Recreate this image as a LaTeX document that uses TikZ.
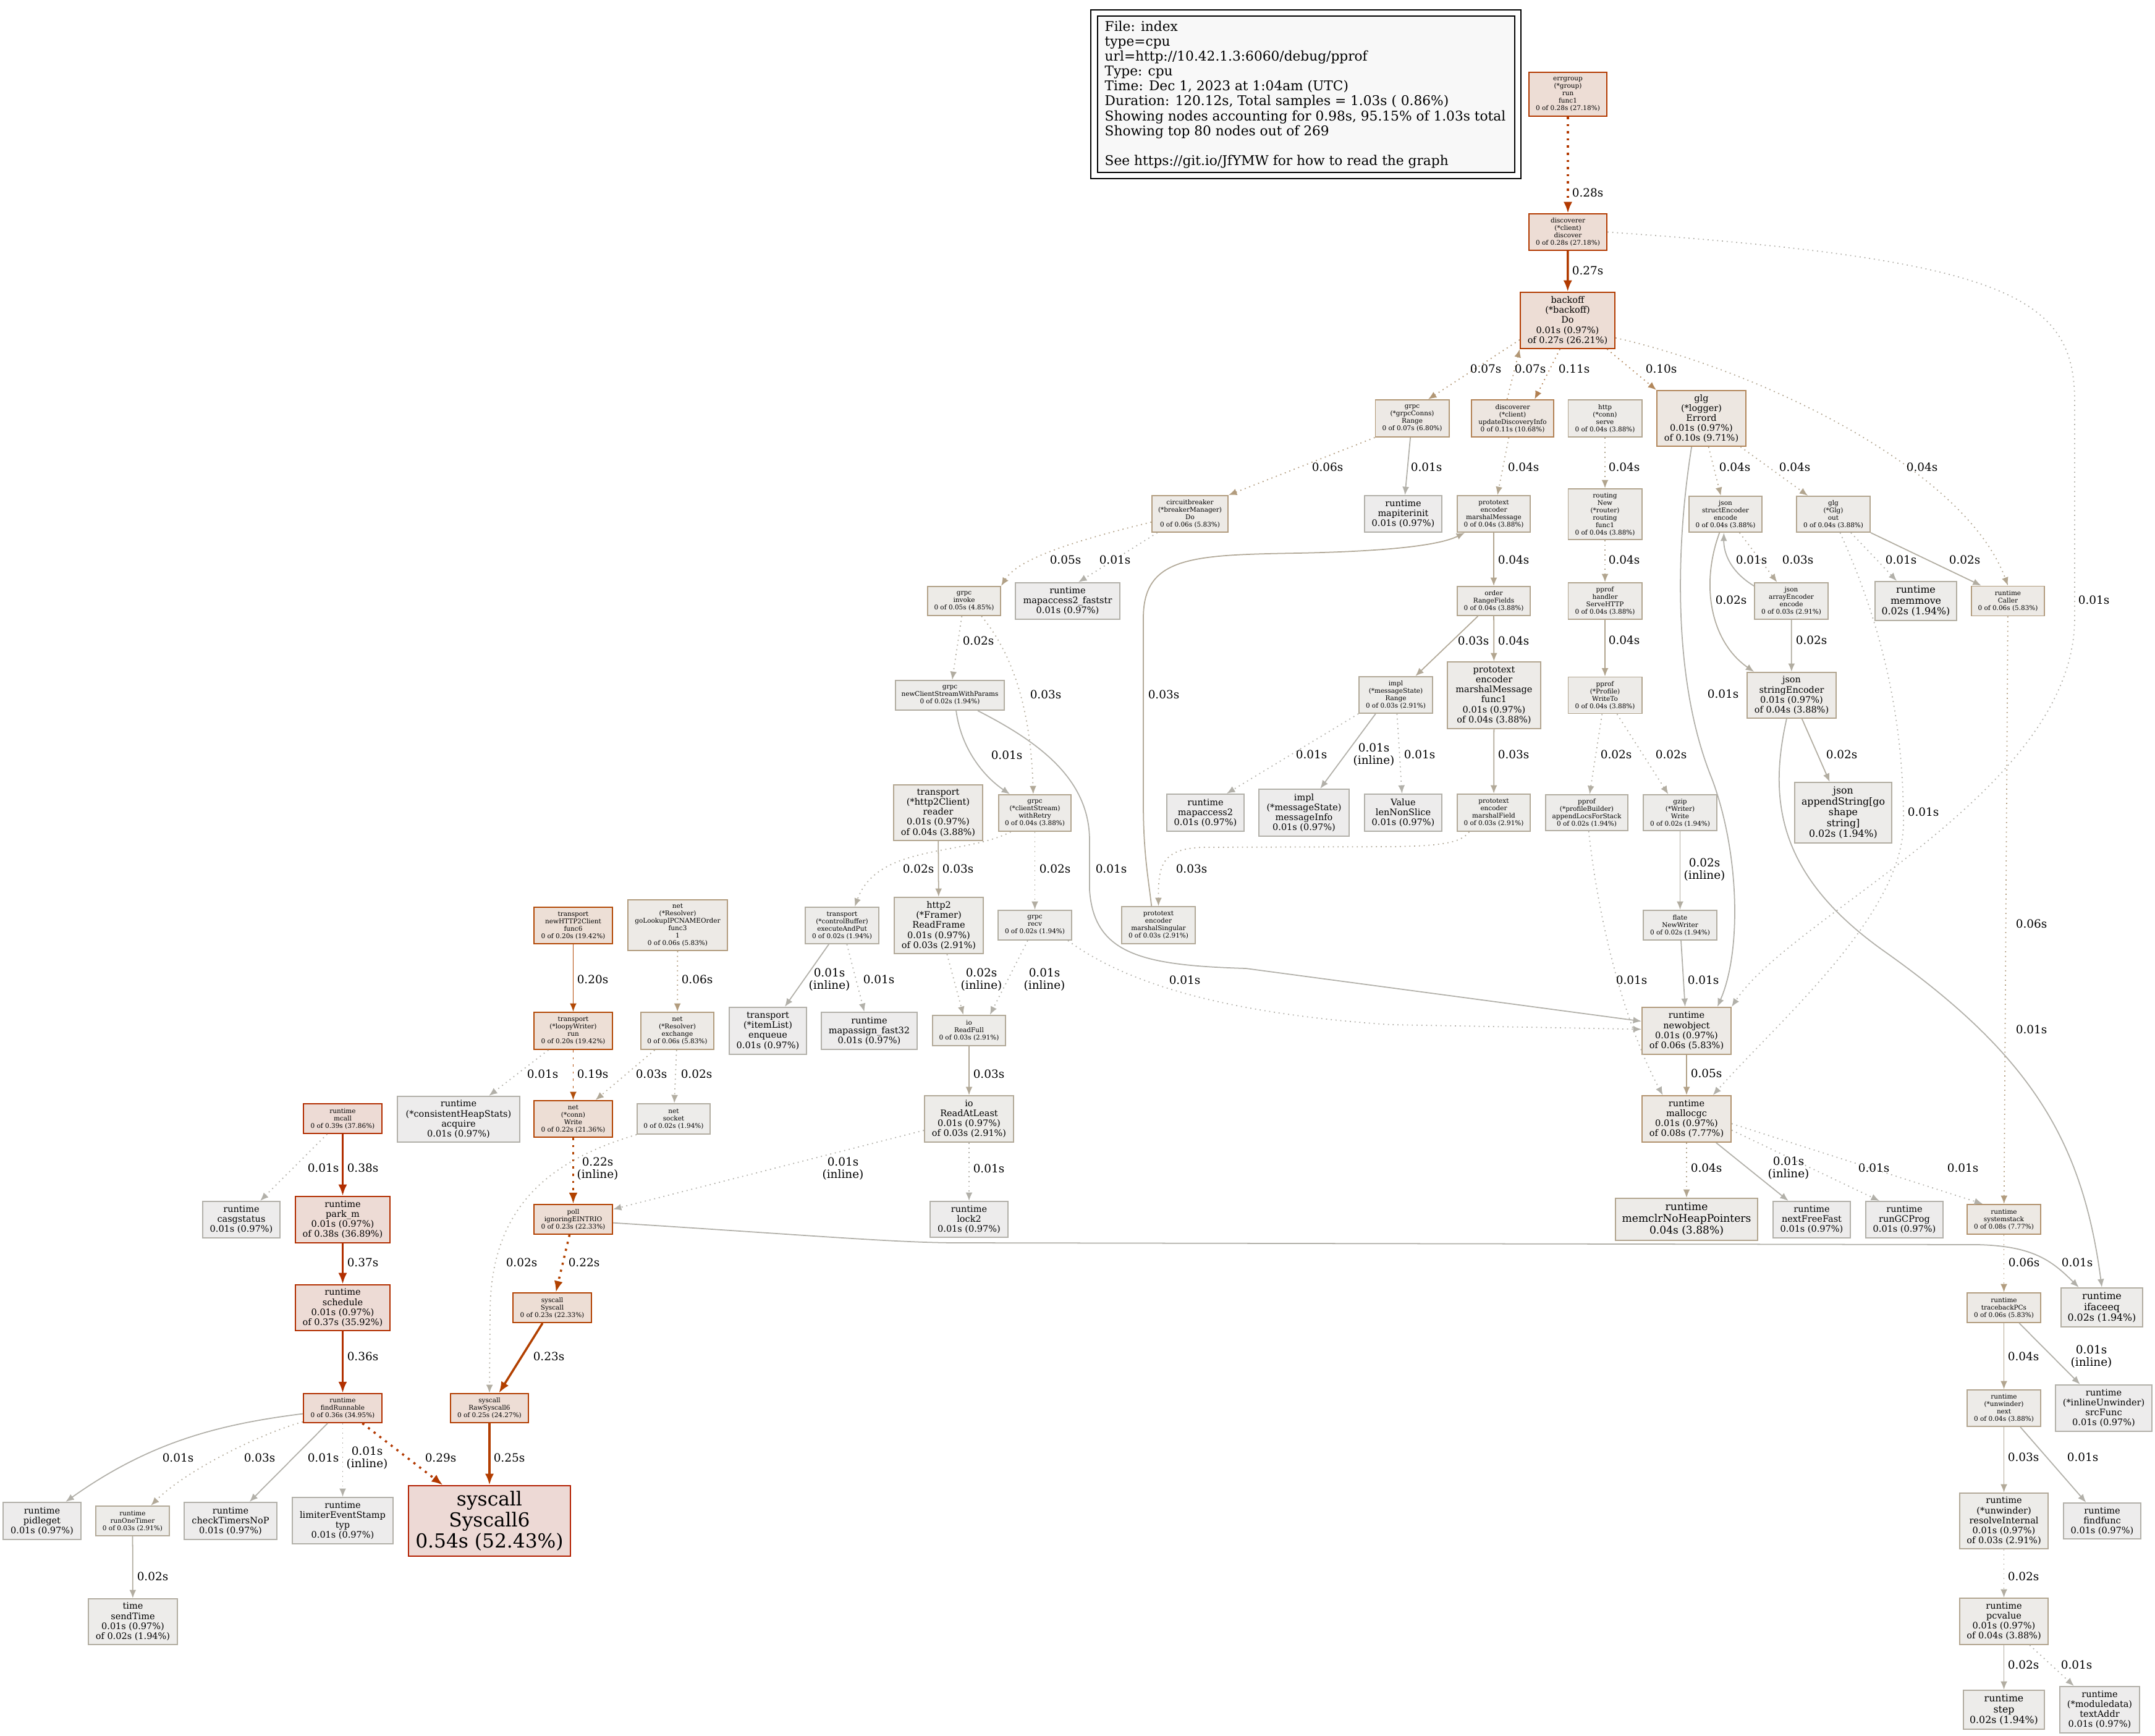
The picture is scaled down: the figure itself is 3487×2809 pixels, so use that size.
\documentclass[tikz,border=0pt]{standalone}
\usepackage{fontspec}
\setmainfont{DejaVu Serif}
\usetikzlibrary{arrows.meta}
\definecolor{c54}{HTML}{B21F00}
\definecolor{c39}{HTML}{B22D00}
\definecolor{c38}{HTML}{B22E00}
\definecolor{c37}{HTML}{B22F00}
\definecolor{c36}{HTML}{B23000}
\definecolor{c29}{HTML}{B23800}
\definecolor{c28}{HTML}{B23900}
\definecolor{c27}{HTML}{B23B00}
\definecolor{c25}{HTML}{B23D00}
\definecolor{c23}{HTML}{B24000}
\definecolor{c22}{HTML}{B24200}
\definecolor{c20}{HTML}{B24805}
\definecolor{c19}{HTML}{B24F0D}
\definecolor{c11}{HTML}{B28153}
\definecolor{c10}{HTML}{B2875B}
\definecolor{c08}{HTML}{B2926D}
\definecolor{c07}{HTML}{B29775}
\definecolor{c06}{HTML}{B29C7E}
\definecolor{c05}{HTML}{B2A187}
\definecolor{c04}{HTML}{B2A58F}
\definecolor{c03}{HTML}{B2A998}
\definecolor{c02}{HTML}{B2ADA1}
\definecolor{c01}{HTML}{B2B0A9}
\definecolor{k54}{HTML}{EDD9D5}
\definecolor{k39}{HTML}{EDDBD5}
\definecolor{k36}{HTML}{EDDCD5}
\definecolor{k28}{HTML}{EDDDD5}
\definecolor{k23}{HTML}{EDDED5}
\definecolor{k20}{HTML}{EDDFD6}
\definecolor{k11}{HTML}{EDE6E0}
\definecolor{k10}{HTML}{EDE7E1}
\definecolor{k08}{HTML}{EDE9E4}
\definecolor{k07}{HTML}{EDE9E5}
\definecolor{k06}{HTML}{EDEAE6}
\definecolor{k05}{HTML}{EDEBE7}
\definecolor{k04}{HTML}{EDEBE8}
\definecolor{k03}{HTML}{EDECE9}
\definecolor{k02}{HTML}{EDECEA}
\definecolor{k01}{HTML}{EDECEC}
\definecolor{legfill}{HTML}{F8F8F8}
\tikzset{
  nb/.style={draw, rectangle, inner sep=0pt, align=center, line width=0.55pt, text=black},
  t8/.style={font=\fontsize{2.98}{3.41}\selectfont},
  t11/.style={font=\fontsize{4.12}{4.6}\selectfont},
  t12/.style={font=\fontsize{4.49}{4.97}\selectfont},
  t13/.style={font=\fontsize{4.86}{5.4}\selectfont},
  t24/.style={font=\fontsize{8.9}{9.8}\selectfont},
  lbl/.style={font=\fontsize{5.24}{5.7}\selectfont, inner sep=0pt, align=center, text=black},
  e/.style={line width=0.5pt, -{Latex[length=3.8pt,width=3.1pt]}},
  eh/.style={line width=1pt, -{Latex[length=5.2pt,width=4pt]}},
  dt/.style={dash pattern=on 0.5pt off 1.7pt},
  dth/.style={dash pattern=on 1pt off 2.3pt},
  n54/.style={draw=c54, fill=k54},
  n39/.style={draw=c39, fill=k39},
  n38/.style={draw=c38, fill=k39},
  n37/.style={draw=c37, fill=k39},
  n36/.style={draw=c36, fill=k36},
  n28/.style={draw=c28, fill=k28},
  n27/.style={draw=c27, fill=k28},
  n25/.style={draw=c25, fill=k28},
  n23/.style={draw=c23, fill=k23},
  n22/.style={draw=c22, fill=k23},
  n20/.style={draw=c20, fill=k20},
  n11/.style={draw=c11, fill=k11},
  n10/.style={draw=c10, fill=k10},
  n08/.style={draw=c08, fill=k08},
  n07/.style={draw=c07, fill=k07},
  n06/.style={draw=c06, fill=k06},
  n05/.style={draw=c05, fill=k05},
  n04/.style={draw=c04, fill=k04},
  n03/.style={draw=c03, fill=k03},
  n02/.style={draw=c02, fill=k02},
  n01/.style={draw=c01, fill=k01}
}
\newcommand\nd[7]{\node[nb,#6,minimum width={#4*0.28453pt},minimum height={#5*0.28453pt}] (#1) at (#2,#3) {#7};}
\begin{document}
\begin{tikzpicture}[x=0.01cm,y=-0.01cm]
\fill[white] (0,0) rectangle (3487,2809);
\useasboundingbox (0,0) rectangle (3487,2809);
% legend
\node[draw=black, line width=0.55pt, minimum width={696*0.28453pt}, minimum height={273*0.28453pt}, inner sep=0pt] (legendOuter) at (2113,152.5) {};
\node[draw=black, fill=legfill, line width=0.55pt, minimum width={675*0.28453pt}, minimum height={253*0.28453pt}, inner sep=0pt] (legendBox) at (2113.5,152.5) {};
\node[anchor=west, align=left, inner sep=0pt, font=\fontsize{6.17}{6.86}\selectfont] (legendText) at (1787,153) {File: index\\type=cpu\\url=http://10.42.1.3:6060/debug/pprof\\Type: cpu\\Time: Dec 1, 2023 at 1:04am (UTC)\\Duration: 120.12s, Total samples = 1.03s ( 0.86\%)\\Showing nodes accounting for 0.98s, 95.15\% of 1.03s total\\Showing top 80 nodes out of 269\\\mbox{}\\See https://git.io/JfYMW for how to read the graph};
% nodes
\nd{errgroup}{2537}{152.5}{126}{71}{t8,n28}{errgroup\\(*group)\\run\\func1\\0 of 0.28s (27.18\%)}
\nd{discover}{2537}{375.5}{126}{59}{t8,n28}{discoverer\\(*client)\\discover\\0 of 0.28s (27.18\%)}
\nd{backoff}{2536.5}{518.5}{153}{91}{t11,n27}{backoff\\(*backoff)\\Do\\0.01s (0.97\%)\\of 0.27s (26.21\%)}
\nd{grpcRange}{2285}{677}{119}{60}{t8,n07}{grpc\\(*grpcConns)\\Range\\0 of 0.07s (6.80\%)}
\nd{updDisc}{2447.5}{677}{133}{60}{t8,n11}{discoverer\\(*client)\\updateDiscoveryInfo\\0 of 0.11s (10.68\%)}
\nd{httpServe}{2597}{677}{119}{60}{t8,n04}{http\\(*conn)\\serve\\0 of 0.04s (3.88\%)}
\nd{errord}{2753}{677}{144}{90}{t11,n10}{glg\\(*logger)\\Errord\\0.01s (0.97\%)\\of 0.10s (9.71\%)}
\nd{circuit}{1925.5}{831.5}{123}{59}{t8,n06}{circuitbreaker\\(*breakerManager)\\Do\\0 of 0.06s (5.83\%)}
\nd{mapiterinit}{2270.5}{831.5}{125}{59}{t11,n01}{runtime\\mapiterinit\\0.01s (0.97\%)}
\nd{marshalMsg}{2417}{831.5}{118}{59}{t8,n04}{prototext\\encoder\\marshalMessage\\0 of 0.04s (3.88\%)}
\nd{routing}{2597}{832}{119}{82}{t8,n04}{routing\\New\\(*router)\\routing\\func1\\0 of 0.04s (3.88\%)}
\nd{structEnc}{2792}{832}{118}{58}{t8,n04}{json\\structEncoder\\encode\\0 of 0.04s (3.88\%)}
\nd{glgOut}{2966.5}{832}{119}{58}{t8,n04}{glg\\(*Glg)\\out\\0 of 0.04s (3.88\%)}
\nd{faststr}{1727.5}{972.5}{169}{59}{t11,n01}{runtime\\mapaccess2\_faststr\\0.01s (0.97\%)}
\nd{invoke}{1560}{972.5}{118}{47}{t8,n05}{grpc\\invoke\\0 of 0.05s (4.85\%)}
\nd{rangeFields}{2417}{972.5}{118}{47}{t8,n04}{order\\RangeFields\\0 of 0.04s (3.88\%)}
\nd{handler}{2597}{972.5}{119}{59}{t8,n04}{pprof\\handler\\ServeHTTP\\0 of 0.04s (3.88\%)}
\nd{arrayEnc}{2898.5}{972.5}{119}{59}{t8,n03}{json\\arrayEncoder\\encode\\0 of 0.03s (2.91\%)}
\nd{memmove}{3100}{972.5}{132}{63}{t12,n02}{runtime\\memmove\\0.02s (1.94\%)}
\nd{caller}{3249}{972.5}{118}{48}{t8,n06}{runtime\\Caller\\0 of 0.06s (5.83\%)}
\nd{ncswp}{1537}{1125}{176}{48}{t8,n02}{grpc\\newClientStreamWithParams\\0 of 0.02s (1.94\%)}
\nd{implRange}{2258.5}{1124.5}{119}{59}{t8,n03}{impl\\(*messageState)\\Range\\0 of 0.03s (2.91\%)}
\nd{func1}{2417.5}{1125}{151}{108}{t11,n04}{prototext\\encoder\\marshalMessage\\func1\\0.01s (0.97\%)\\of 0.04s (3.88\%)}
\nd{writeTo}{2597}{1125}{119}{59}{t8,n04}{pprof\\(*Profile)\\WriteTo\\0 of 0.04s (3.88\%)}
\nd{stringEnc}{2899}{1125}{144}{74}{t11,n04}{json\\stringEncoder\\0.01s (0.97\%)\\of 0.04s (3.88\%)}
\nd{reader}{1518}{1315}{144}{90}{t11,n04}{transport\\(*http2Client)\\reader\\0.01s (0.97\%)\\of 0.04s (3.88\%)}
\nd{withRetry}{1674.5}{1315.5}{117}{59}{t8,n04}{grpc\\(*clientStream)\\withRetry\\0 of 0.04s (3.88\%)}
\nd{mapaccess2}{1950.5}{1315}{125}{60}{t11,n01}{runtime\\mapaccess2\\0.01s (0.97\%)}
\nd{messageInfo}{2110}{1315}{146}{76}{t11,n01}{impl\\(*messageState)\\messageInfo\\0.01s (0.97\%)}
\nd{lenNonSlice}{2270.5}{1315}{125}{60}{t11,n01}{Value\\lenNonSlice\\0.01s (0.97\%)}
\nd{marshalField}{2417}{1315}{118}{60}{t8,n03}{prototext\\encoder\\marshalField\\0 of 0.03s (2.91\%)}
\nd{appendLocs}{2567.5}{1315}{133}{58}{t8,n02}{pprof\\(*profileBuilder)\\appendLocsForStack\\0 of 0.02s (1.94\%)}
\nd{gzip}{2718.5}{1315}{119}{58}{t8,n02}{gzip\\(*Writer)\\Write\\0 of 0.02s (1.94\%)}
\nd{appendString}{2982.5}{1315}{157}{98}{t12,n02}{json\\appendString[go\\shape\\string]\\0.02s (1.94\%)}
\nd{func6}{927.5}{1497.5}{127}{59}{t8,n20}{transport\\newHTTP2Client\\func6\\0 of 0.20s (19.42\%)}
\nd{goLookup}{1096.5}{1497}{161}{82}{t8,n06}{net\\(*Resolver)\\goLookupIPCNAMEOrder\\func3\\1\\0 of 0.06s (5.83\%)}
\nd{ctrlBuf}{1362.5}{1497.5}{119}{59}{t8,n02}{transport\\(*controlBuffer)\\executeAndPut\\0 of 0.02s (1.94\%)}
\nd{readFrame}{1519}{1497.5}{144}{91}{t11,n03}{http2\\(*Framer)\\ReadFrame\\0.01s (0.97\%)\\of 0.03s (2.91\%)}
\nd{recv}{1674.5}{1497}{119}{48}{t8,n02}{grpc\\recv\\0 of 0.02s (1.94\%)}
\nd{marshalSingular}{1874.5}{1497}{119}{60}{t8,n03}{prototext\\encoder\\marshalSingular\\0 of 0.03s (2.91\%)}
\nd{flate}{2718.5}{1497}{119}{48}{t8,n02}{flate\\NewWriter\\0 of 0.02s (1.94\%)}
\nd{loopy}{927.5}{1668}{127}{60}{t8,n20}{transport\\(*loopyWriter)\\run\\0 of 0.20s (19.42\%)}
\nd{exchange}{1096}{1668}{118}{60}{t8,n06}{net\\(*Resolver)\\exchange\\0 of 0.06s (5.83\%)}
\nd{enqueue}{1242.5}{1668}{125}{76}{t11,n01}{transport\\(*itemList)\\enqueue\\0.01s (0.97\%)}
\nd{mapassign}{1406.5}{1668}{155}{60}{t11,n01}{runtime\\mapassign\_fast32\\0.01s (0.97\%)}
\nd{readFull}{1568}{1667.5}{118}{49}{t8,n03}{io\\ReadFull\\0 of 0.03s (2.91\%)}
\nd{newobject}{2729}{1668}{144}{76}{t11,n06}{runtime\\newobject\\0.01s (0.97\%)\\of 0.06s (5.83\%)}
\nd{heapStats}{742}{1811}{198}{74}{t11,n01}{runtime\\(*consistentHeapStats)\\acquire\\0.01s (0.97\%)}
\nd{mcall}{554.5}{1810}{127}{48}{t8,n39}{runtime\\mcall\\0 of 0.39s (37.86\%)}
\nd{connWrite}{927.5}{1810.5}{127}{59}{t8,n22}{net\\(*conn)\\Write\\0 of 0.22s (21.36\%)}
\nd{socket}{1090}{1810.5}{118}{49}{t8,n02}{net\\socket\\0 of 0.02s (1.94\%)}
\nd{readAtLeast}{1568}{1810.5}{144}{75}{t11,n03}{io\\ReadAtLeast\\0.01s (0.97\%)\\of 0.03s (2.91\%)}
\nd{mallocgc}{2729}{1810.5}{144}{75}{t11,n08}{runtime\\mallocgc\\0.01s (0.97\%)\\of 0.08s (7.77\%)}
\nd{casgstatus}{390.5}{1973.5}{125}{59}{t11,n01}{runtime\\casgstatus\\0.01s (0.97\%)}
\nd{parkm}{554.5}{1973.5}{153}{75}{t11,n38}{runtime\\park\_m\\0.01s (0.97\%)\\of 0.38s (36.89\%)}
\nd{poll}{927.5}{1973}{127}{48}{t8,n23}{poll\\ignoringEINTRIO\\0 of 0.23s (22.33\%)}
\nd{lock2}{1568}{1973}{126}{58}{t11,n01}{runtime\\lock2\\0.01s (0.97\%)}
\nd{memclr}{2729}{1973}{230}{68}{t13,n04}{runtime\\memclrNoHeapPointers\\0.04s (3.88\%)}
\nd{nextFreeFast}{2931.5}{1973.5}{125}{59}{t11,n01}{runtime\\nextFreeFast\\0.01s (0.97\%)}
\nd{runGCProg}{3081.5}{1973.5}{125}{59}{t11,n01}{runtime\\runGCProg\\0.01s (0.97\%)}
\nd{systemstack}{3242.5}{1973}{119}{48}{t8,n08}{runtime\\systemstack\\0 of 0.08s (7.77\%)}
\nd{schedule}{554.5}{2116}{153}{74}{t11,n37}{runtime\\schedule\\0.01s (0.97\%)\\of 0.37s (35.92\%)}
\nd{syscall}{893.5}{2116}{127}{48}{t8,n23}{syscall\\Syscall\\0 of 0.23s (22.33\%)}
\nd{traceback}{3242.5}{2116}{119}{48}{t8,n06}{runtime\\tracebackPCs\\0 of 0.06s (5.83\%)}
\nd{ifaceeq}{3401}{2115.5}{132}{63}{t12,n02}{runtime\\ifaceeq\\0.02s (1.94\%)}
\nd{findRunnable}{554.5}{2278.5}{127}{47}{t8,n36}{runtime\\findRunnable\\0 of 0.36s (34.95\%)}
\nd{rawSyscall6}{792}{2278.5}{126}{47}{t8,n25}{syscall\\RawSyscall6\\0 of 0.25s (24.27\%)}
\nd{next}{3242.5}{2278.5}{119}{59}{t8,n04}{runtime\\(*unwinder)\\next\\0 of 0.04s (3.88\%)}
\nd{srcFunc}{3404}{2278.5}{156}{75}{t11,n01}{runtime\\(*inlineUnwinder)\\srcFunc\\0.01s (0.97\%)}
\nd{pidleget}{68}{2461}{126}{60}{t11,n01}{runtime\\pidleget\\0.01s (0.97\%)}
\nd{runOneTimer}{214.5}{2461}{119}{48}{t8,n03}{runtime\\runOneTimer\\0 of 0.03s (2.91\%)}
\nd{checkTimers}{373}{2461}{150}{60}{t11,n01}{runtime\\checkTimersNoP\\0.01s (0.97\%)}
\nd{limiter}{554.5}{2460.5}{163}{75}{t11,n01}{runtime\\limiterEventStamp\\typ\\0.01s (0.97\%)}
\nd{syscall6}{792}{2461}{262}{114}{t24,n54}{syscall\\Syscall6\\0.54s (52.43\%)}
\nd{resolveInternal}{3242.5}{2461}{143}{90}{t11,n03}{runtime\\(*unwinder)\\resolveInternal\\0.01s (0.97\%)\\of 0.03s (2.91\%)}
\nd{findfunc}{3401.5}{2461}{125}{58}{t11,n01}{runtime\\findfunc\\0.01s (0.97\%)}
\nd{sendTime}{215}{2624}{144}{74}{t11,n02}{time\\sendTime\\0.01s (0.97\%)\\of 0.02s (1.94\%)}
\nd{pcvalue}{3242.5}{2623.5}{143}{75}{t11,n04}{runtime\\pcvalue\\0.01s (0.97\%)\\of 0.04s (3.88\%)}
\nd{step}{3242.5}{2766.5}{131}{63}{t12,n02}{runtime\\step\\0.02s (1.94\%)}
\nd{textAddr}{3397.5}{2766.5}{129}{75}{t11,n01}{runtime\\(*moduledata)\\textAddr\\0.01s (0.97\%)}
% edges
\draw[eh,dth,c28] (errgroup) -- (discover) node[lbl] at (2569,312) {0.28s};
\draw[eh,c27] (discover) -- (backoff) node[lbl] at (2569,438) {0.27s};
\draw[e,dt,c01] (discover.east) .. controls (3250,420) and (3357,480) .. (3357,650) -- (3357,1000) .. controls (3357,1280) and (2900,1480) .. (newobject.north east) node[lbl] at (3388,971) {0.01s};
\draw[e,dt,c07] (backoff.202) -- (grpcRange.50) node[lbl] at (2404,597) {0.07s};
\draw[e,dt,c07] (updDisc.106) -- (backoff.south west) node[lbl] at (2476,597) {0.07s};
\draw[e,dt,c11] (backoff.255) -- (updDisc.41) node[lbl] at (2547,597) {0.11s};
\draw[e,dt,c10] (backoff.-36) -- (errord.north west) node[lbl] at (2688,597) {0.10s};
\draw[e,dt,c04] (backoff.-20) .. controls (2850,600) and (3180,760) .. (caller.north) node[lbl] at (3110,756) {0.04s};
\draw[e,dt,c06] (grpcRange.south west) -- (circuit.north east) node[lbl] at (2148,756) {0.06s};
\draw[e,c01] (grpcRange) -- (mapiterinit) node[lbl] at (2308,756) {0.01s};
\draw[e,dt,c04] (updDisc) -- (marshalMsg) node[lbl] at (2465,756) {0.04s};
\draw[e,dt,c04] (httpServe) -- (routing) node[lbl] at (2628,756) {0.04s};
\draw[e,dt,c04] (errord) -- (structEnc) node[lbl] at (2807,756) {0.04s};
\draw[e,dt,c04] (errord) -- (glgOut) node[lbl] at (2904,756) {0.04s};
\draw[e,c01] (errord.251) .. controls (2712,880) and (2705,1100) .. (2770,1260) .. controls (2815,1380) and (2818,1540) .. (newobject.38) node[lbl] at (2788,1123) {0.01s};
\draw[e,dt,c05] (circuit.192) .. controls (1760,870) and (1650,900) .. (invoke.north east) node[lbl] at (1724,906) {0.05s};
\draw[e,dt,c01] (circuit.210) -- (faststr.60) node[lbl] at (1804,906) {0.01s};
\draw[e,c04] (marshalMsg) -- (rangeFields) node[lbl] at (2449,906) {0.04s};
\draw[e,c03] (marshalSingular.110) .. controls (1858,1420) and (1850,1380) .. (1850,1300) -- (1850,1000) .. controls (1850,900) and (1930,898) .. (2100,895) .. controls (2250,892) and (2330,882) .. (marshalMsg.213) node[lbl] at (1883,1124) {0.03s};
\draw[e,dt,c03] (marshalField.218) .. controls (2365,1362) and (2340,1369) .. (2250,1370) -- (1950,1371) .. controls (1880,1372) and (1874,1400) .. (marshalSingular.north) node[lbl] at (1928,1406) {0.03s};
\draw[e,c03] (rangeFields) -- (implRange) node[lbl] at (2384,1037) {0.03s};
\draw[e,c04] (rangeFields) -- (func1) node[lbl] at (2449,1037) {0.04s};
\draw[e,dt,c04] (routing) -- (handler) node[lbl] at (2628,906) {0.04s};
\draw[e,c04] (handler) -- (writeTo) node[lbl] at (2628,1036) {0.04s};
\draw[e,dt,c03] (structEnc) -- (arrayEnc) node[lbl] at (2909,906) {0.03s};
\draw[e,c01] (arrayEnc.158) .. controls (2800,925) and (2789,895) .. (structEnc.265) node[lbl] at (2834,906) {0.01s};
\draw[e,c02] (structEnc.252) .. controls (2750,950) and (2770,1040) .. (stringEnc.148) node[lbl] at (2801,971) {0.02s};
\draw[e,c02] (arrayEnc) -- (stringEnc) node[lbl] at (2931,1036) {0.02s};
\draw[e,dt,c01] (glgOut) -- (memmove) node[lbl] at (3076,906) {0.01s};
\draw[e,c02] (glgOut.south east) -- (caller.150) node[lbl] at (3179,906) {0.02s};
\draw[e,dt,c01] (glgOut.290) .. controls (3040,1000) and (3080,1150) .. (3080,1330) .. controls (3080,1480) and (2880,1650) .. (mallocgc.42) node[lbl] at (3112,1314) {0.01s};
\draw[e,dt,c06] (caller) -- (systemstack) node[lbl] at (3287,1495) {0.06s};
\draw[e,c02] (stringEnc) -- (appendString) node[lbl] at (2980,1221) {0.02s};
\draw[e,c01] (stringEnc.258) .. controls (2860,1300) and (2880,1420) .. (3050,1540) .. controls (3290,1710) and (3370,1850) .. (ifaceeq.north) node[lbl] at (3287,1666) {0.01s};
\draw[e,dt,c02] (invoke) -- (ncswp) node[lbl] at (1583,1037) {0.02s};
\draw[e,dt,c03] (invoke.-41) .. controls (1640,1060) and (1668,1150) .. (withRetry.95) node[lbl] at (1692,1124) {0.03s};
\draw[e,c01] (ncswp.-68) .. controls (1555,1210) and (1590,1255) .. (withRetry.143) node[lbl] at (1629,1222) {0.01s};
\draw[e,c01] (ncswp.-29) .. controls (1680,1200) and (1763,1260) .. (1763,1360) -- (1763,1440) .. controls (1770,1545) and (1850,1562) .. (2016,1567) -- (newobject.168) node[lbl] at (1798,1406) {0.01s};
\draw[e,dt,c01] (implRange.south west) -- (mapaccess2.42) node[lbl] at (2122,1221) {0.01s};
\draw[e,c01] (implRange.223) -- (messageInfo.56) node[lbl] at (2223,1221) {0.01s\\(inline)};
\draw[e,dt,c01] (implRange) -- (lenNonSlice) node[lbl] at (2297,1221) {0.01s};
\draw[e,c03] (func1) -- (marshalField) node[lbl] at (2449,1221) {0.03s};
\draw[e,dt,c02] (writeTo) -- (appendLocs) node[lbl] at (2615,1221) {0.02s};
\draw[e,dt,c02] (writeTo) -- (gzip) node[lbl] at (2704,1221) {0.02s};
\draw[e,dt,c01] (appendLocs) .. controls (2585,1480) and (2625,1650) .. (mallocgc.135) node[lbl] at (2640,1586) {0.01s};
\draw[e,c02] (gzip) -- (flate) node[lbl] at (2758,1407) {0.02s\\(inline)};
\draw[e,c01] (flate) -- (newobject) node[lbl] at (2756,1586) {0.01s};
\draw[e,dt,c02] (withRetry.218) .. controls (1560,1385) and (1420,1365) .. (ctrlBuf.56) node[lbl] at (1486,1406) {0.02s};
\draw[e,c03] (reader) -- (readFrame) node[lbl] at (1550,1406) {0.03s};
\draw[e,dt,c02] (withRetry) -- (recv) node[lbl] at (1707,1406) {0.02s};
\draw[e,dt,c01] (recv.-25) .. controls (1820,1590) and (1980,1640) .. (2250,1658) -- (newobject.178) node[lbl] at (1917,1586) {0.01s};
\draw[e,dt,c01] (recv.-115) -- (readFull.37) node[lbl] at (1690,1585) {0.01s\\(inline)};
\draw[e,dt,c02] (readFrame.-74) -- (readFull.110) node[lbl] at (1588,1585) {0.02s\\(inline)};
\draw[e,c01] (ctrlBuf) -- (enqueue) node[lbl] at (1342,1585) {0.01s\\(inline)};
\draw[e,dt,c01] (ctrlBuf) -- (mapassign) node[lbl] at (1422,1585) {0.01s};
\draw[e,c20] (func6) -- (loopy) node[lbl] at (959,1585) {0.20s};
\draw[e,dt,c06] (goLookup) -- (exchange) node[lbl] at (1128,1585) {0.06s};
\draw[e,dt,c01] (loopy) -- (heapStats) node[lbl] at (878,1738) {0.01s};
\draw[e,dth,c19] (loopy) -- (connWrite) node[lbl] at (959,1738) {0.19s};
\draw[e,dt,c03] (exchange) -- (connWrite) node[lbl] at (1054,1738) {0.03s};
\draw[e,dt,c02] (exchange) -- (socket) node[lbl] at (1127,1738) {0.02s};
\draw[e,c03] (readFull) -- (readAtLeast) node[lbl] at (1600,1738) {0.03s};
\draw[e,dt,c01] (mcall) -- (casgstatus) node[lbl] at (523,1890) {0.01s};
\draw[eh,c38] (mcall) -- (parkm) node[lbl] at (587,1890) {0.38s};
\draw[eh,dth,c22] (connWrite) -- (poll) node[lbl] at (967,1891) {0.22s\\(inline)};
\draw[e,dt,c01] (readAtLeast) -- (poll) node[lbl] at (1364,1891) {0.01s\\(inline)};
\draw[e,dt,c01] (readAtLeast) -- (lock2) node[lbl] at (1600,1891) {0.01s};
\draw[e,dt,c02] (socket.south west) .. controls (880,1880) and (795,1960) .. (793,2120) -- (rawSyscall6.north) node[lbl] at (844,2043) {0.02s};
\draw[e,c05] (newobject) -- (mallocgc) node[lbl] at (2761,1737) {0.05s};
\draw[e,dt,c04] (mallocgc) -- (memclr) node[lbl] at (2761,1890) {0.04s};
\draw[e,c01] (mallocgc) -- (nextFreeFast) node[lbl] at (2894,1890) {0.01s\\(inline)};
\draw[e,dt,c01] (mallocgc.-14) -- (runGCProg.143) node[lbl] at (3032,1890) {0.01s};
\draw[e,dt,c01] (mallocgc.-6) -- (systemstack.144) node[lbl] at (3176,1890) {0.01s};
\draw[eh,c37] (parkm) -- (schedule) node[lbl] at (587,2043) {0.37s};
\draw[eh,dth,c22] (poll) -- (syscall) node[lbl] at (945,2043) {0.22s};
\draw[e,c01] (poll.-5) .. controls (1300,1998) and (1450,2011) .. (1550,2011) -- (3200,2014) .. controls (3290,2016) and (3320,2040) .. (ifaceeq.139) node[lbl] at (3361,2043) {0.01s};
\draw[e,dt,c06] (systemstack) -- (traceback) node[lbl] at (3275,2043) {0.06s};
\draw[eh,c36] (schedule) -- (findRunnable) node[lbl] at (587,2195) {0.36s};
\draw[eh,c23] (syscall) -- (rawSyscall6) node[lbl] at (888,2195) {0.23s};
\draw[e,c04] (traceback) -- (next) node[lbl] at (3274,2195) {0.04s};
\draw[e,c01] (traceback) -- (srcFunc) node[lbl] at (3384,2195) {0.01s\\(inline)};
\draw[e,c01] (findRunnable.188) .. controls (350,2305) and (240,2335) .. (pidleget.39) node[lbl] at (288,2359) {0.01s};
\draw[e,dt,c03] (findRunnable.199) .. controls (420,2320) and (300,2380) .. (runOneTimer.40) node[lbl] at (420,2359) {0.03s};
\draw[e,c01] (findRunnable) -- (checkTimers) node[lbl] at (523,2359) {0.01s};
\draw[e,dt,c01] (findRunnable) -- (limiter) node[lbl] at (594,2359) {0.01s\\(inline)};
\draw[eh,dth,c29] (findRunnable) -- (syscall6) node[lbl] at (713,2359) {0.29s};
\draw[eh,c25] (rawSyscall6) -- (syscall6) node[lbl] at (824,2359) {0.25s};
\draw[e,c03] (next) -- (resolveInternal) node[lbl] at (3274,2358) {0.03s};
\draw[e,c01] (next) -- (findfunc) node[lbl] at (3370,2358) {0.01s};
\draw[e,c02] (runOneTimer) -- (sendTime) node[lbl] at (247,2551) {0.02s};
\draw[e,dt,c02] (resolveInternal) -- (pcvalue) node[lbl] at (3274,2551) {0.02s};
\draw[e,c02] (pcvalue) -- (step) node[lbl] at (3274,2694) {0.02s};
\draw[e,dt,c01] (pcvalue) -- (textAddr) node[lbl] at (3360,2694) {0.01s};
\end{tikzpicture}
\end{document}
